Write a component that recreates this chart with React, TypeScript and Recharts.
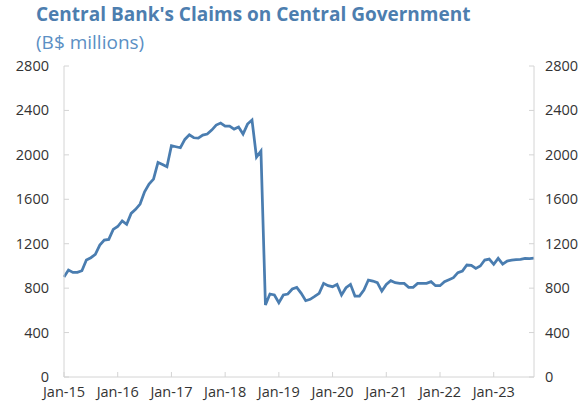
import { LineChart, Line, XAxis, YAxis } from "recharts";

// monthly, Jan-2015 .. Oct-2023 (B$ millions)
const years = [15, 16, 17, 18, 19, 20, 21, 22, 23];
const monthNames = ["Jan", "Feb", "Mar", "Apr", "May", "Jun", "Jul", "Aug", "Sep", "Oct", "Nov", "Dec"];

const claims2015 = [900, 963, 942, 942, 957, 1053, 1074, 1104, 1188, 1233, 1239, 1329];
const claims2016 = [1355, 1405, 1375, 1473, 1509, 1557, 1668, 1737, 1782, 1932, 1914, 1893];
const claims2017 = [2082, 2073, 2064, 2139, 2180, 2154, 2151, 2178, 2187, 2223, 2268, 2286];
const claims2018 = [2259, 2259, 2232, 2250, 2187, 2277, 2313, 1980, 2034, 648, 747, 738];
const claims2019 = [669, 738, 747, 792, 807, 753, 687, 699, 725, 753, 843, 822];
const claims2020 = [813, 834, 738, 804, 834, 729, 729, 783, 873, 864, 849, 774];
const claims2021 = [834, 867, 849, 843, 843, 807, 807, 843, 843, 843, 858, 822];
const claims2022 = [822, 858, 876, 894, 939, 954, 1008, 1005, 978, 999, 1053, 1062];
const claims2023 = [1014, 1068, 1017, 1044, 1053, 1056, 1059, 1068, 1065, 1071];

const yTicks = [0, 400, 800, 1200, 1600, 2000, 2400, 2800];

const byYear = [
  claims2015, claims2016, claims2017, claims2018, claims2019,
  claims2020, claims2021, claims2022, claims2023,
];

const data = byYear.flatMap((vals, yi) =>
  vals.map((v, mi) => ({ month: `${monthNames[mi]}-${years[yi]}`, value: v }))
);

const BLUE = "#4a7db0";
const AXIS = "#d4d4d4";
const FONT = "'Open Sans', 'Noto Sans', sans-serif";

function XTick(props: any) {
  const { x, y, payload } = props;
  return (
    <g>
      <line x1={x} x2={x} y1={y} y2={y - 5} stroke={AXIS} />
      <text x={x} y={y + 20} textAnchor="middle" fill="#333" fontSize={14.5} fontFamily={FONT}>
        {payload.value}
      </text>
    </g>
  );
}

function LeftTick(props: any) {
  const { x, y, payload } = props;
  return (
    <g>
      <line x1={x} x2={x + 5} y1={y} y2={y} stroke={AXIS} />
      <text x={x - 15} y={y + 5} textAnchor="end" fill="#333" fontSize={14.5} fontFamily={FONT}>
        {payload.value}
      </text>
    </g>
  );
}

function RightTick(props: any) {
  const { x, y, payload } = props;
  return (
    <g>
      <line x1={x} x2={x - 5} y1={y} y2={y} stroke={AXIS} />
      <text x={x + 11} y={y + 5} textAnchor="start" fill="#333" fontSize={14.5} fontFamily={FONT}>
        {payload.value}
      </text>
    </g>
  );
}

export default function App() {
  return (
    <div
      style={{
        position: "absolute",
        left: 0,
        top: 0,
        width: 584,
        height: 412,
        background: "#fff",
      }}
    >
      <div
        style={{
          position: "absolute",
          left: 36,
          top: 3,
          fontFamily: FONT,
          fontWeight: 700,
          fontSize: 19,
          lineHeight: "22px",
          color: "#4d7eaf",
          whiteSpace: "nowrap",
        }}
      >
        Central Bank's Claims on Central Government
      </div>
      <div
        style={{
          position: "absolute",
          left: 36,
          top: 31,
          fontFamily: FONT,
          fontSize: 19,
          lineHeight: "22px",
          color: "#5b8fc4",
          whiteSpace: "nowrap",
        }}
      >
        (B$ millions)
      </div>
      <LineChart
        width={584}
        height={412}
        data={data}
        margin={{ top: 66, right: 0, bottom: 0, left: 0 }}
      >
        <XAxis
          dataKey="month"
          interval={11}
          tickSize={0}
          tickMargin={0}
          tickLine={false}
          axisLine={{ stroke: AXIS }}
          tick={<XTick />}
          height={35}
        />
        <XAxis
          xAxisId="top"
          dataKey="month"
          orientation="top"
          height={0}
          tick={false}
          tickLine={false}
          axisLine={{ stroke: AXIS }}
        />
        <YAxis
          domain={[0, 2800]}
          ticks={yTicks}
          interval={0}
          tickSize={0}
          tickMargin={0}
          tickLine={false}
          axisLine={{ stroke: AXIS }}
          tick={<LeftTick />}
          width={64}
        />
        <YAxis
          yAxisId="right"
          orientation="right"
          domain={[0, 2800]}
          ticks={yTicks}
          interval={0}
          tickSize={0}
          tickMargin={0}
          tickLine={false}
          axisLine={{ stroke: AXIS }}
          tick={<RightTick />}
          width={50}
        />
        <Line
          type="linear"
          dataKey="value"
          stroke={BLUE}
          strokeWidth={2.75}
          dot={false}
          isAnimationActive={false}
        />
        {/* same series on the right scale, invisible, so that axis gets its ticks */}
        <Line
          yAxisId="right"
          type="linear"
          dataKey="value"
          stroke="none"
          strokeOpacity={0}
          dot={false}
          activeDot={false}
          legendType="none"
          isAnimationActive={false}
        />
      </LineChart>
    </div>
  );
}
